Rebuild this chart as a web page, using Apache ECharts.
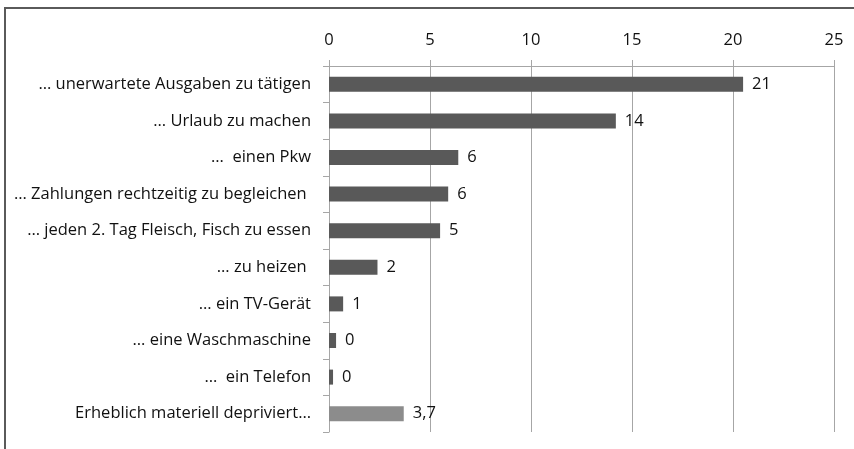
<!DOCTYPE html>
<html>
<head>
<meta charset="utf-8">
<script src="https://cdn.jsdelivr.net/npm/echarts@6/dist/echarts.min.js"></script>
<style>
  html, body { margin: 0; padding: 0; background: #fff; }
  #chart { width: 854px; height: 449px; }
</style>
</head>
<body>
<div id="chart"></div>
<script>
// Kategorien von oben nach unten
const categories = [
  '… unerwartete Ausgaben zu tätigen',
  '… Urlaub zu machen',
  '…  einen Pkw',
  '… Zahlungen rechtzeitig zu begleichen ',
  '… jeden 2. Tag Fleisch, Fisch zu essen',
  '… zu heizen ',
  '… ein TV-Gerät',
  '… eine Waschmaschine',
  '…  ein Telefon',
  'Erheblich materiell depriviert…'
]
// Werte (aus dem Bild geschätzt)
const values = [20.5, 14.2, 6.4, 5.9, 5.5, 2.4, 0.7, 0.35, 0.2, 3.7]
// angezeigte Beschriftungen
const valueLabels = ['21', '14', '6', '6', '5', '2', '1', '0', '0', '3,7']
const xTicks = [0, 5, 10, 15, 20, 25]

const barColor = '#595959'
const totalColor = '#8c8c8c'
const gridColor = '#a6a6a6'
const font = '"Open Sans", sans-serif'

const chart = echarts.init(document.getElementById('chart'))

const option = {
  animation: false,
  grid: { left: 329, right: 20, top: 66, bottom: 17, containLabel: false },
  xAxis: {
    type: 'value',
    position: 'top',
    min: xTicks[0],
    max: xTicks[xTicks.length - 1],
    interval: 5,
    axisLine: { show: true, lineStyle: { color: gridColor, width: 1 } },
    axisTick: { show: true, length: 6, lineStyle: { color: gridColor } },
    splitLine: { show: true, lineStyle: { color: gridColor, width: 1 } },
    axisLabel: { margin: 17, color: '#111', fontSize: 16.5, fontFamily: font }
  },
  yAxis: {
    type: 'category',
    inverse: true,
    data: categories,
    axisLine: { show: true, lineStyle: { color: gridColor } },
    axisTick: { show: true, length: 6, lineStyle: { color: gridColor } },
    axisLabel: { margin: 18, color: '#111', fontSize: 16.5, fontFamily: font }
  },
  series: [
    {
      type: 'bar',
      barWidth: 15,
      data: values.map((v, i) => ({
        value: v,
        itemStyle: { color: i === values.length - 1 ? totalColor : barColor }
      })),
      label: {
        show: true,
        position: 'right',
        distance: 9,
        color: '#111',
        fontSize: 16.5,
        fontFamily: font,
        formatter: (p) => valueLabels[p.dataIndex]
      }
    }
  ],
  // Rahmen oben und links
  graphic: [
    { type: 'line', shape: { x1: 4, y1: 8, x2: 854, y2: 8 }, style: { stroke: '#5a5a5a', lineWidth: 2 } },
    { type: 'line', shape: { x1: 5, y1: 8, x2: 5, y2: 449 }, style: { stroke: '#5a5a5a', lineWidth: 2 } }
  ]
}

chart.setOption(option)
</script>
</body>
</html>
